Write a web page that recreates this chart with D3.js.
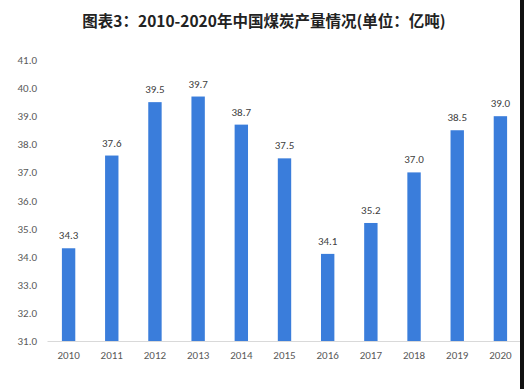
<!DOCTYPE html>
<html>
<head>
<meta charset="utf-8">
<script src="https://cdn.jsdelivr.net/npm/d3@7"></script>
<style>
  body { margin: 0; background: #fff; }
  svg { display: block; font-family: "Microsoft YaHei", "Noto Sans CJK SC", "DejaVu Sans", sans-serif; }
</style>
</head>
<body>
<div id="chart"></div>
<script>
// China coal output 2010-2020 (unit: 100 million tonnes)
const years = ["2010","2011","2012","2013","2014","2015","2016","2017","2018","2019","2020"];
const output = [34.3, 37.6, 39.5, 39.7, 38.7, 37.5, 34.1, 35.2, 37.0, 38.5, 39.0];
const yTicks = [31, 32, 33, 34, 35, 36, 37, 38, 39, 40, 41];
const titleText = "图表3：2010-2020年中国煤炭产量情况(单位：亿吨)";

const W = 524, H = 389;
const margin = {top: 60, right: 2, bottom: 48, left: 47};
const width = W - margin.left - margin.right,
      height = 341 - margin.top;

const svg = d3.select("#chart")
  .append("svg")
  .attr("width", W)
  .attr("height", H);

// title
svg.append("text")
  .attr("x", 264)
  .attr("y", 27)
  .attr("text-anchor", "middle")
  .style("font-size", "15.5px")
  .style("font-weight", "bold")
  .style("fill", "#222")
  .text(titleText);

const g = svg.append("g")
  .attr("transform", `translate(${margin.left},${margin.top})`);

const x = d3.scaleBand()
  .domain(years)
  .range([0, width])
  .paddingInner(0.69)
  .paddingOuter(0.345);

const y = d3.scaleLinear()
  .domain([31, 41])
  .range([height, 0]);

// y axis labels (no line)
const yAxis = g.append("g")
  .call(d3.axisLeft(y).tickValues(yTicks).tickFormat(d3.format(".1f")).tickSize(0).tickPadding(10));
yAxis.select(".domain").remove();
yAxis.selectAll("text")
  .style("font-size", "11px")
  .style("fill", "#595959")
  .style("font-family", "Calibri, 'Liberation Sans', 'DejaVu Sans', sans-serif");

// bars
g.selectAll("rect.bar")
  .data(years)
  .join("rect")
  .attr("class", "bar")
  .attr("x", d => x(d))
  .attr("width", x.bandwidth())
  .attr("y", (d, i) => y(output[i]))
  .attr("height", (d, i) => y(31) - y(output[i]))
  .attr("fill", "#3a7ddb");

// value labels
g.selectAll("text.val")
  .data(years)
  .join("text")
  .attr("class", "val")
  .attr("x", d => x(d) + x.bandwidth() / 2)
  .attr("y", (d, i) => y(output[i]) - 9)
  .attr("text-anchor", "middle")
  .style("font-size", "11px")
  .style("fill", "#404040")
  .style("font-family", "Calibri, 'Liberation Sans', 'DejaVu Sans', sans-serif")
  .text((d, i) => output[i].toFixed(1));

// x axis
const xAxis = g.append("g")
  .attr("transform", `translate(0,${height})`)
  .call(d3.axisBottom(x).tickSize(0).tickPadding(10));
xAxis.select(".domain").attr("stroke", "#d9d9d9");
xAxis.selectAll("text")
  .style("font-size", "11px")
  .style("fill", "#595959")
  .style("font-family", "Calibri, 'Liberation Sans', 'DejaVu Sans', sans-serif");

// dark strip at right edge of the original image
svg.append("rect")
  .attr("x", 520).attr("y", 0)
  .attr("width", 4).attr("height", H)
  .attr("fill", "#111");
</script>
</body>
</html>
